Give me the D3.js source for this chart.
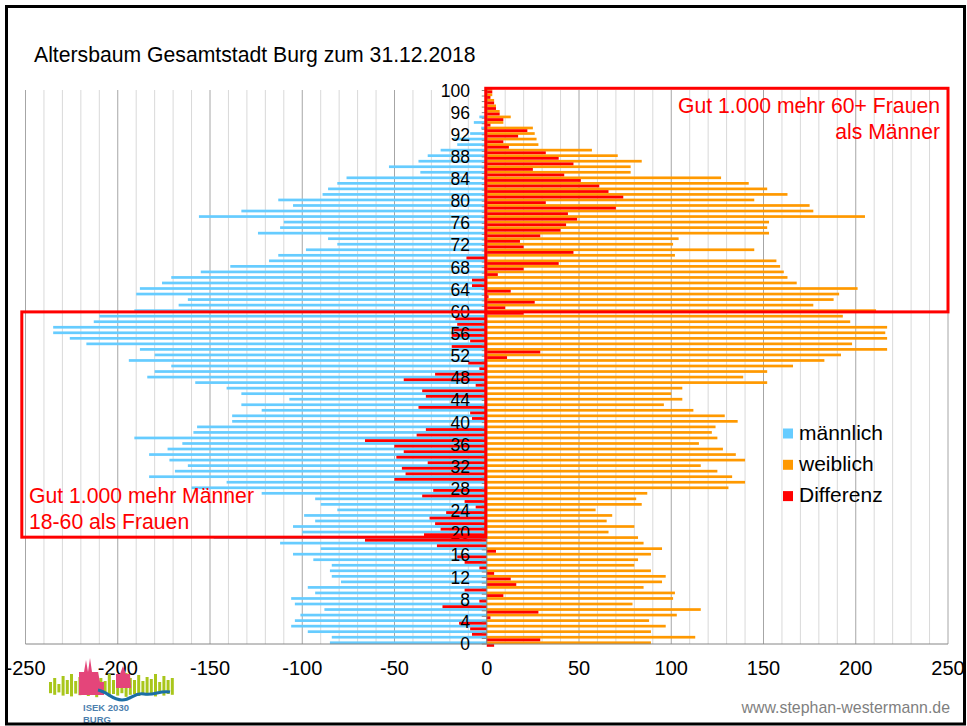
<!DOCTYPE html>
<html>
<head>
<meta charset="utf-8">
<script src="https://cdn.jsdelivr.net/npm/d3@7"></script>
<style>
  body { margin: 0; background: #fff; }
  svg { display: block; }
  text { font-family: "Liberation Sans", Arial, sans-serif; }
</style>
</head>
<body>
<svg id="chart" width="967" height="726"></svg>
<script>
// Alter 0..100
const ages = d3.range(0, 101);

// Einwohner je Altersjahr
const maennlich = [85,84,97,106,104,101,88,104,106,93, 97,79,84,85,84,94,105,90,112,148,
  100,105,93,99,81,90,93,122,160,141, 183,169,162,172,183,173,165,191,159,157,
  138,138,122,133,107,133,141,158,184,180, 171,194,180,188,217,226,235,235,213,210,
  191,167,162,190,188,176,171,155,139,118, 113,98,81,86,124,112,110,156,133,105,
  113,89,86,81,76,36,53,37,32,25, 16,18,9,3,7,4,0,0,0,1, 0];

const weiblich = [89,113,89,97,88,103,116,79,101,102, 85,95,97,89,80,82,89,95,85,82,
  66,80,65,68,59,84,81,87,131,140, 133,125,116,140,135,128,115,125,122,124,
  136,129,112,96,106,100,106,152,139,152, 166,183,192,217,198,217,216,217,197,193,
  211,177,188,191,201,168,163,161,159,157, 102,145,101,104,153,152,153,205,177,175,
  145,163,152,142,127,78,78,84,71,57, 28,27,26,25,9,13,7,5,4,3, 3];

const differenz = [4,29,-8,-9,-15,2,28,-24,-4,9, -12,16,13,4,-4,-12,-16,5,-27,-66,
  -34,-25,-28,-31,-22,-6,-12,-35,-29,0, -50,-44,-46,-32,-49,-45,-50,-66,-38,-33,
  -1,-8,-9,-37,0,-33,-35,-6,-45,-28, -4,-10,11,29,-19,-9,-19,-18,-16,-17,
  20,10,26,1,13,-8,-8,6,20,39, -11,47,20,18,29,40,43,49,44,70,
  32,74,66,61,51,42,25,47,39,32, 12,9,17,22,2,9,7,5,4,2, 3];

const xTicks = [-250, -200, -150, -100, -50, 0, 50, 100, 150, 200, 250];
const yTicks = [0,4,8,12,16,20,24,28,32,36,40,44,48,52,56,60,64,68,72,76,80,84,88,92,96,100];

const seriesNames = ["männlich", "weiblich", "Differenz"];
const colors = { "männlich": "#66ccff", "weiblich": "#ff9900", "Differenz": "#ff0000" };

const svg = d3.select("#chart");

const x = d3.scaleLinear().domain([-250, 250]).range([25.5, 948]);
const y = d3.scalePoint().domain(ages).range([644, 90.5]);
const yc = d3.scaleLinear().domain([0, 100]).range([644, 90.5]); // fuer Rahmen

// Gitternetz
svg.append("g")
  .selectAll("line")
  .data(d3.range(-250, 251, 10))
  .join("line")
    .attr("x1", d => x(d)).attr("x2", d => x(d))
    .attr("y1", 90).attr("y2", 644)
    .attr("stroke", d => d % 50 === 0 ? "#a6a6a6" : "#d9d9d9")
    .attr("stroke-width", 1);

// Balken
const bars = svg.append("g");
bars.selectAll(".m")
  .data(ages)
  .join("rect")
    .attr("class", "m")
    .attr("x", a => x(-maennlich[a]))
    .attr("y", a => y(a) - 2.6)
    .attr("width", a => x(0) - x(-maennlich[a]))
    .attr("height", 2.7)
    .attr("fill", colors["männlich"]);

bars.selectAll(".w")
  .data(ages)
  .join("rect")
    .attr("class", "w")
    .attr("x", x(0))
    .attr("y", a => y(a) - 2.6)
    .attr("width", a => x(weiblich[a]) - x(0))
    .attr("height", 2.7)
    .attr("fill", colors["weiblich"]);

bars.selectAll(".d")
  .data(ages)
  .join("rect")
    .attr("class", "d")
    .attr("x", a => x(Math.min(0, differenz[a])))
    .attr("y", a => y(a))
    .attr("width", a => Math.abs(x(differenz[a]) - x(0)))
    .attr("height", 2.8)
    .attr("fill", colors["Differenz"]);

// Achsen
svg.append("line")
  .attr("x1", x(0)).attr("x2", x(0))
  .attr("y1", 90).attr("y2", 644)
  .attr("stroke", "#868686");
svg.append("g")
  .selectAll("line")
  .data(ages)
  .join("line")
    .attr("x1", x(0) - 5).attr("x2", x(0))
    .attr("y1", a => y(a)).attr("y2", a => y(a))
    .attr("stroke", "#868686");
svg.append("line")
  .attr("x1", x(-250)).attr("x2", x(250))
  .attr("y1", 644).attr("y2", 644)
  .attr("stroke", "#868686");

svg.append("g")
  .selectAll("text")
  .data(yTicks)
  .join("text")
    .attr("x", 470)
    .attr("y", a => y(a) + 6)
    .attr("text-anchor", "end")
    .attr("font-size", 17.5)
    .text(a => a);

svg.append("g")
  .selectAll("text")
  .data(xTicks)
  .join("text")
    .attr("x", d => x(d))
    .attr("y", 675)
    .attr("text-anchor", "middle")
    .attr("font-size", 20)
    .text(d => d);

// Titel
svg.append("text")
  .attr("x", 34).attr("y", 62)
  .attr("font-size", 21.2)
  .text("Altersbaum Gesamtstadt Burg zum 31.12.2018");

// Markierungen
svg.append("rect")
  .attr("x", x(0) - 1).attr("y", yc(100.4))
  .attr("width", x(250) - x(0) + 1).attr("height", yc(60) - yc(100.4))
  .attr("fill", "none").attr("stroke", "#ff0000").attr("stroke-width", 3);
svg.append("rect")
  .attr("x", x(-252)).attr("y", yc(60))
  .attr("width", x(0) - 1 - x(-252)).attr("height", yc(19.3) - yc(60))
  .attr("fill", "none").attr("stroke", "#ff0000").attr("stroke-width", 3);

const note = svg.append("g").attr("fill", "#ff0000").attr("font-size", 21.2);
note.append("text").attr("x", 940).attr("y", 113).attr("text-anchor", "end").text("Gut 1.000 mehr 60+ Frauen");
note.append("text").attr("x", 940).attr("y", 139).attr("text-anchor", "end").text("als Männer");
note.append("text").attr("x", 29).attr("y", 503).text("Gut 1.000 mehr Männer");
note.append("text").attr("x", 29).attr("y", 529).text("18-60 als Frauen");

// Legende
const legend = svg.append("g")
  .selectAll("g")
  .data(seriesNames)
  .join("g")
    .attr("transform", (d, i) => `translate(783,${428.5 + i * 31.3})`);
legend.append("rect").attr("width", 10).attr("height", 10).attr("fill", d => colors[d]);
legend.append("text").attr("x", 16).attr("y", 11).attr("font-size", 21).text(d => d);

// Logo ISEK 2030
const logo = svg.append("g");
const logoGreen = [8,12,6,14,10,16,9,13,7,15,11,18,12,9,16,10,14,8,17,12,10,15,9,13,11,16,8,14,10,12];
logo.selectAll(".lg")
  .data(logoGreen)
  .join("rect")
    .attr("x", (d, i) => 49 + i * 4.2)
    .attr("y", d => 690 - d)
    .attr("width", 3)
    .attr("height", d => d * 1.4)
    .attr("fill", "#a9c61b");
logo.append("path")
  .attr("d", "M79,695 L79,672 L84,672 L86,660 L88,672 L90,658 L92,672 L98,672 L100,682 L104,682 L104,695 Z M116,688 L116,674 L120,674 L123,666 L126,674 L130,674 L131,688 Z")
  .attr("fill", "#e4457a");
logo.append("path")
  .attr("d", "M98,690 C108,692 112,700 122,700 C132,700 134,692 144,694 C154,696 160,690 170,692")
  .attr("fill", "none").attr("stroke", "#1b6fa6").attr("stroke-width", 3);
logo.append("text").attr("x", 83).attr("y", 711).attr("font-size", 9.5).attr("font-weight", "bold")
  .attr("fill", "#4d7fae").text("ISEK 2030");
logo.append("text").attr("x", 83).attr("y", 722.5).attr("font-size", 9.5).attr("font-weight", "bold")
  .attr("fill", "#4d7fae").text("BURG");

// Quelle
svg.append("text")
  .attr("x", 950).attr("y", 713)
  .attr("text-anchor", "end")
  .attr("font-size", 15.9)
  .attr("fill", "#7f7f7f")
  .text("www.stephan-westermann.de");

// Rahmen
svg.append("rect")
  .attr("x", 6.5).attr("y", 6.5)
  .attr("width", 958).attr("height", 717.5)
  .attr("fill", "none").attr("stroke", "#000").attr("stroke-width", 3);
</script>
</body>
</html>
